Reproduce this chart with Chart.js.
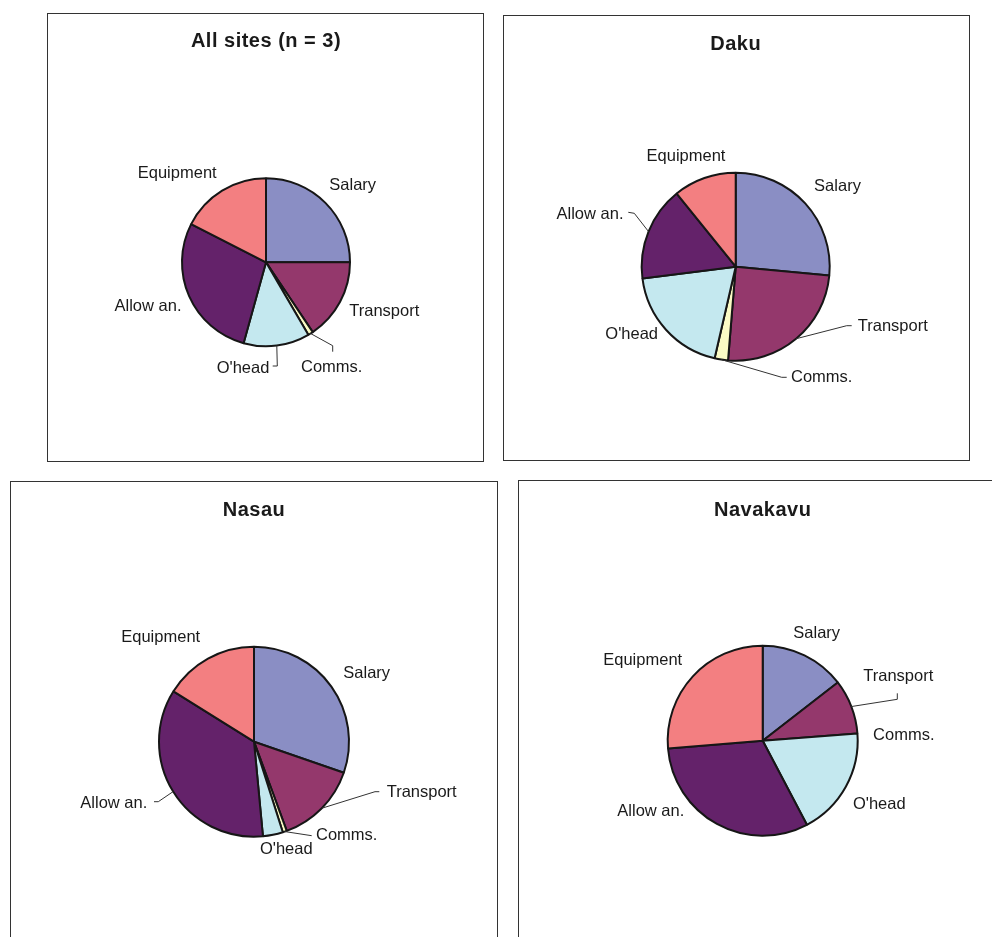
<!DOCTYPE html>
<html>
<head>
<meta charset="utf-8">
<script src="https://cdn.jsdelivr.net/npm/chart.js@4.4.0/dist/chart.umd.min.js"></script>
<style>
    html, body { margin: 0; padding: 0; background: #fff; }
    body { width: 992px; height: 937px; overflow: hidden; position: relative; }
    .panel { position: absolute; border: 1px solid #333; box-sizing: border-box; background: #fff; }
    .panel canvas { position: absolute; left: -1px; top: -1px; }
</style>
</head>
<body>
<div class="panel" id="boxAll"><canvas id="chartAll"></canvas></div>
<div class="panel" id="boxDaku"><canvas id="chartDaku"></canvas></div>
<div class="panel" id="boxNasau"><canvas id="chartNasau"></canvas></div>
<div class="panel" id="boxNavakavu"><canvas id="chartNavakavu"></canvas></div>
<script>
// cost categories and share of costs (%) per site
const categories = ['Salary', 'Transport', 'Comms.', "O'head", 'Allow an.', 'Equipment'];
const allSitesShare = [25.0, 15.6, 1.0, 12.7, 28.2, 17.5];
const dakuShare = [26.5, 24.8, 2.3, 19.4, 16.2, 10.8];
const nasauShare = [30.3, 14.1, 0.7, 3.4, 35.4, 16.1];
const navakavuShare = [14.5, 9.3, 0, 18.5, 31.4, 26.3];

const sliceColours = ['#8a8ec4', '#94386c', '#fbfbc5', '#c4e8ef', '#64226a', '#f37f81'];

const labelFont = '16.5px "Liberation Sans", Arial, sans-serif';
const titleFont = 'bold 20px "Liberation Sans", Arial, sans-serif';

// panel boxes, pie centres and label placement (offsets from pie centre)
const panels = [
    {
        canvas: 'chartAll', box: 'boxAll', title: 'All sites (n = 3)', values: allSitesShare,
        rect: [47, 13, 437, 449], centre: [219, 249.3], radius: 84, titleY: 28.7,
        labelAt: [[86.7, -77], [118.3, 49.4], [65.7, 104.7], [-23, 106.4], [-118, 44.4], [-88.8, -89]],
        leaders: {2: [[66.7, 83.4], [66.7, 89.4]], 3: [[11.3, 103.7], [6.7, 103.7]]}
    },
    {
        canvas: 'chartDaku', box: 'boxDaku', title: 'Daku', values: dakuShare,
        rect: [503, 15, 467, 446], centre: [232.7, 251.7], radius: 94, titleY: 29.3,
        labelAt: [[101.8, -80.7], [157.1, 59.3], [86, 110.6], [-104, 68], [-145.7, -52.7], [-49.7, -110]],
        leaders: {1: [[111, 59], [116, 59]], 2: [[46, 110.6], [51, 110.6]], 4: [[-101.4, -53.4], [-107.4, -54.4]]}
    },
    {
        canvas: 'chartNasau', box: 'boxNasau', title: 'Nasau', values: nasauShare,
        rect: [10, 481, 488, 480], centre: [244, 260.7], radius: 95, titleY: 29.7,
        labelAt: [[112.7, -68.4], [167.7, 50.6], [92.7, 94], [32.3, 108], [-140.2, 61.3], [-93.3, -104.4]],
        leaders: {1: [[121, 50], [125.3, 50]], 2: [[57.7, 94]], 4: [[-95.7, 60], [-100, 60]]}
    },
    {
        canvas: 'chartNavakavu', box: 'boxNavakavu', title: 'Navakavu', values: navakavuShare,
        rect: [518, 480, 490, 480], centre: [244.7, 260.7], radius: 95, titleY: 30,
        labelAt: [[54, -107.4], [135.6, -64.7], [141.1, -5], [116.6, 63.6], [-111.9, 70.3], [-120, -80.4]],
        leaders: {1: [[134.6, -41.4], [134.6, -47.4]]}
    }
];

// draws the panel title, slice names and the leader lines
const sliceLabels = {
    id: 'sliceLabels',
    afterDraw(chart, args, opts) {
        const ctx = chart.ctx;
        const meta = chart.getDatasetMeta(0);
        const first = meta.data[0];
        const cx = first.x, cy = first.y;

        ctx.save();
        ctx.fillStyle = '#1a1a1a';
        ctx.textAlign = 'center';
        ctx.textBaseline = 'middle';
        ctx.font = titleFont;
        ctx.letterSpacing = '0.5px';
        ctx.fillText(opts.title, cx, opts.titleY);
        ctx.letterSpacing = '0px';

        ctx.strokeStyle = '#333';
        ctx.lineWidth = 1;
        Object.keys(opts.leaders).forEach(function (key) {
            const arc = meta.data[key];
            const mid = (arc.startAngle + arc.endAngle) / 2;
            ctx.beginPath();
            ctx.moveTo(cx + Math.cos(mid) * arc.outerRadius, cy + Math.sin(mid) * arc.outerRadius);
            opts.leaders[key].forEach(function (p) {
                ctx.lineTo(cx + p[0], cy + p[1]);
            });
            ctx.stroke();
        });

        ctx.font = labelFont;
        chart.data.labels.forEach(function (label, i) {
            const at = opts.labelAt[i];
            ctx.fillText(label, cx + at[0], cy + at[1]);
        });
        ctx.restore();
    }
};

panels.forEach(function (p) {
    const box = document.getElementById(p.box);
    box.style.left = p.rect[0] + 'px';
    box.style.top = p.rect[1] + 'px';
    box.style.width = p.rect[2] + 'px';
    box.style.height = p.rect[3] + 'px';

    const canvas = document.getElementById(p.canvas);
    canvas.width = p.rect[2];
    canvas.height = p.rect[3];

    // a small chart area centred on the pie; the radius is set directly
    const half = 40;
    new Chart(canvas.getContext('2d'), {
        type: 'pie',
        data: {
            labels: categories,
            datasets: [{
                data: p.values,
                backgroundColor: sliceColours,
                borderColor: '#161616',
                borderWidth: 2
            }]
        },
        options: {
            responsive: false,
            animation: false,
            radius: p.radius,
            layout: {
                padding: {
                    left: p.centre[0] - half,
                    right: p.rect[2] - p.centre[0] - half,
                    top: p.centre[1] - half,
                    bottom: p.rect[3] - p.centre[1] - half
                }
            },
            plugins: {
                legend: {display: false},
                tooltip: {enabled: false},
                sliceLabels: {title: p.title, titleY: p.titleY, labelAt: p.labelAt, leaders: p.leaders}
            }
        },
        plugins: [sliceLabels]
    });
});
</script>
</body>
</html>
